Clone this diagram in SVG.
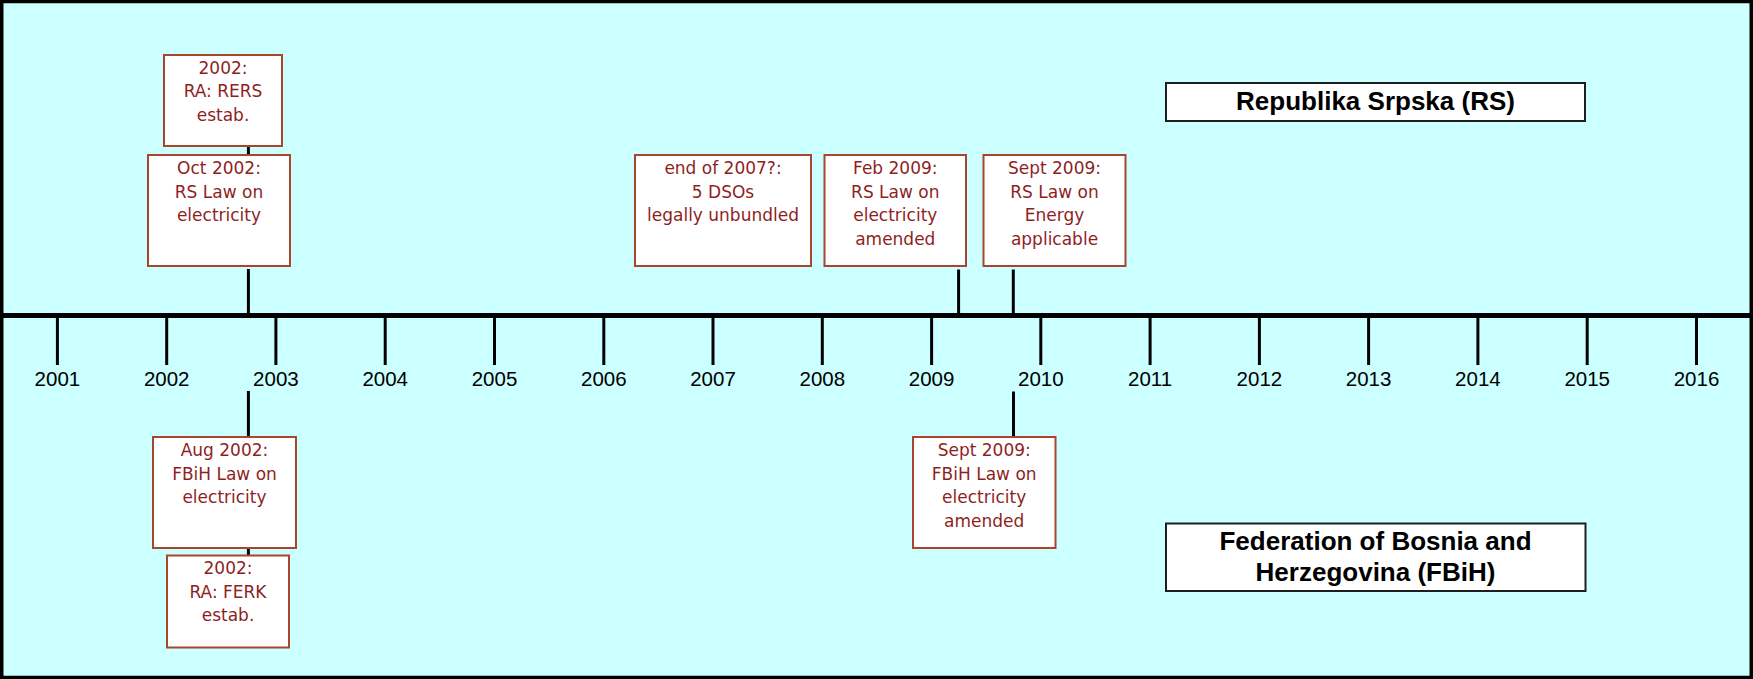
<svg xmlns="http://www.w3.org/2000/svg" width="1753" height="679" viewBox="0 0 1753 679">
<style>
.ev rect{fill:#ffffff;stroke:#A8452A;stroke-width:2}
.ev text{font-family:"DejaVu Sans",sans-serif;font-size:17px;fill:#8E1F1F;text-anchor:middle}
.lb rect{fill:#ffffff;stroke:#1e1e1e;stroke-width:2}
.lb text{font-family:"Liberation Sans",Arial,sans-serif;font-size:26px;font-weight:bold;fill:#000;text-anchor:middle}
.yr{font-family:"Liberation Sans",Arial,sans-serif;font-size:20.5px;fill:#000;text-anchor:middle}
.tick{stroke:#000;stroke-width:3}
.conn line{stroke:#000;stroke-width:3}
</style>
<rect x="1.75" y="1.5" width="1749.5" height="676" fill="#CCFFFF" stroke="#000" stroke-width="3.5"/>
<g id="timeline">
<line x1="0" y1="315.5" x2="1753" y2="315.5" stroke="#000" stroke-width="5"/>
<line class="tick" x1="57.4" y1="318" x2="57.4" y2="365"/>
<line class="tick" x1="166.7" y1="318" x2="166.7" y2="365"/>
<line class="tick" x1="275.9" y1="318" x2="275.9" y2="365"/>
<line class="tick" x1="385.2" y1="318" x2="385.2" y2="365"/>
<line class="tick" x1="494.5" y1="318" x2="494.5" y2="365"/>
<line class="tick" x1="603.8" y1="318" x2="603.8" y2="365"/>
<line class="tick" x1="713" y1="318" x2="713" y2="365"/>
<line class="tick" x1="822.3" y1="318" x2="822.3" y2="365"/>
<line class="tick" x1="931.6" y1="318" x2="931.6" y2="365"/>
<line class="tick" x1="1040.8" y1="318" x2="1040.8" y2="365"/>
<line class="tick" x1="1150.1" y1="318" x2="1150.1" y2="365"/>
<line class="tick" x1="1259.4" y1="318" x2="1259.4" y2="365"/>
<line class="tick" x1="1368.6" y1="318" x2="1368.6" y2="365"/>
<line class="tick" x1="1477.9" y1="318" x2="1477.9" y2="365"/>
<line class="tick" x1="1587.2" y1="318" x2="1587.2" y2="365"/>
<line class="tick" x1="1696.5" y1="318" x2="1696.5" y2="365"/>
<text class="yr" x="57.4" y="385.5">2001</text>
<text class="yr" x="166.7" y="385.5">2002</text>
<text class="yr" x="275.9" y="385.5">2003</text>
<text class="yr" x="385.2" y="385.5">2004</text>
<text class="yr" x="494.5" y="385.5">2005</text>
<text class="yr" x="603.8" y="385.5">2006</text>
<text class="yr" x="713" y="385.5">2007</text>
<text class="yr" x="822.3" y="385.5">2008</text>
<text class="yr" x="931.6" y="385.5">2009</text>
<text class="yr" x="1040.8" y="385.5">2010</text>
<text class="yr" x="1150.1" y="385.5">2011</text>
<text class="yr" x="1259.4" y="385.5">2012</text>
<text class="yr" x="1368.6" y="385.5">2013</text>
<text class="yr" x="1477.9" y="385.5">2014</text>
<text class="yr" x="1587.2" y="385.5">2015</text>
<text class="yr" x="1696.5" y="385.5">2016</text>
</g>
<g id="connectors" class="conn">
<line x1="248.4" y1="146" x2="248.4" y2="155"/>
<line x1="248.4" y1="269" x2="248.4" y2="313"/>
<line x1="958.6" y1="269.5" x2="958.6" y2="313"/>
<line x1="1013.3" y1="269.5" x2="1013.3" y2="313"/>
<line x1="248.4" y1="391" x2="248.4" y2="437"/>
<line x1="248.4" y1="548" x2="248.4" y2="555.5"/>
<line x1="1013.5" y1="391.5" x2="1013.5" y2="437"/>
</g>
<g id="rs-rers" class="ev">
<rect x="164" y="55" width="118" height="91"/>
<text x="223" y="73.5">2002:</text>
<text x="223" y="97">RA: RERS</text>
<text x="223" y="120.5">estab.</text>
</g>
<g id="rs-law-2002" class="ev">
<rect x="148" y="155" width="142" height="111"/>
<text x="219" y="174">Oct 2002:</text>
<text x="219" y="197.5">RS Law on</text>
<text x="219" y="221">electricity</text>
</g>
<g id="rs-dso-2007" class="ev">
<rect x="635" y="155" width="176" height="111"/>
<text x="723" y="174">end of 2007?:</text>
<text x="723" y="197.5">5 DSOs</text>
<text x="723" y="221">legally unbundled</text>
</g>
<g id="rs-law-feb2009" class="ev">
<rect x="824.5" y="155" width="141.5" height="111"/>
<text x="895.3" y="174">Feb 2009:</text>
<text x="895.3" y="197.5">RS Law on</text>
<text x="895.3" y="221">electricity</text>
<text x="895.3" y="244.5">amended</text>
</g>
<g id="rs-energy-sept2009" class="ev">
<rect x="983.5" y="155" width="142" height="111"/>
<text x="1054.5" y="174">Sept 2009:</text>
<text x="1054.5" y="197.5">RS Law on</text>
<text x="1054.5" y="221">Energy</text>
<text x="1054.5" y="244.5">applicable</text>
</g>
<g id="fbih-law-2002" class="ev">
<rect x="153" y="437" width="143" height="111"/>
<text x="224.5" y="456">Aug 2002:</text>
<text x="224.5" y="479.5">FBiH Law on</text>
<text x="224.5" y="503">electricity</text>
</g>
<g id="fbih-ferk" class="ev">
<rect x="167" y="555.5" width="122" height="92"/>
<text x="228" y="574">2002:</text>
<text x="228" y="597.5">RA: FERK</text>
<text x="228" y="621">estab.</text>
</g>
<g id="fbih-law-sept2009" class="ev">
<rect x="913" y="437" width="142.5" height="111"/>
<text x="984.2" y="456">Sept 2009:</text>
<text x="984.2" y="479.5">FBiH Law on</text>
<text x="984.2" y="503">electricity</text>
<text x="984.2" y="526.5">amended</text>
</g>
<g id="label-rs" class="lb">
<rect x="1166" y="83" width="419" height="38"/>
<text x="1375.5" y="110">Republika Srpska (RS)</text>
</g>
<g id="label-fbih" class="lb">
<rect x="1166" y="523.5" width="419.5" height="67.5"/>
<text x="1375.5" y="550">Federation of Bosnia and</text>
<text x="1375.5" y="581">Herzegovina (FBiH)</text>
</g>
</svg>
